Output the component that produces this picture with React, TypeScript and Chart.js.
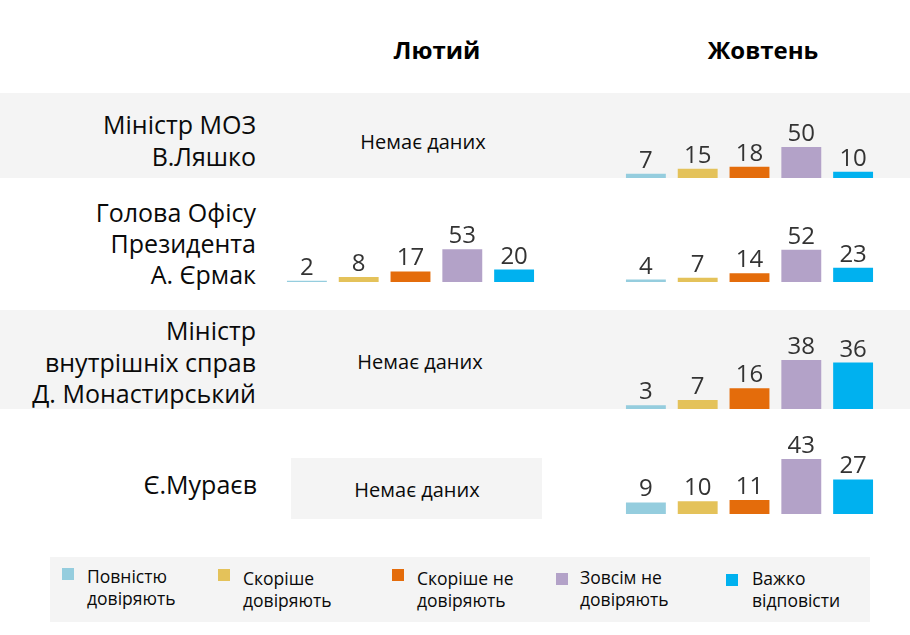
import React, { useEffect, useRef } from "react";
import { Chart, registerables } from "chart.js";
Chart.register(...registerables);

const periods = ["Лютий", "Жовтень"];
const categories = [
  "Повністю довіряють",
  "Скоріше довіряють",
  "Скоріше не довіряють",
  "Зовсім не довіряють",
  "Важко відповісти",
];
const legendLines = [
  ["Повністю", "довіряють"],
  ["Скоріше", "довіряють"],
  ["Скоріше не", "довіряють"],
  ["Зовсім не", "довіряють"],
  ["Важко", "відповісти"],
];
const people = [
  ["Міністр МОЗ", "В.Ляшко"],
  ["Голова Офісу", "Президента", "А. Єрмак"],
  ["Міністр", "внутрішніх справ", "Д. Монастирський"],
  ["Є.Мураєв"],
];
const lyashkoFeb: number[] | null = null;
const lyashkoOct = [7, 15, 18, 50, 10];
const yermakFeb = [2, 8, 17, 53, 20];
const yermakOct = [4, 7, 14, 52, 23];
const monastyrskyFeb: number[] | null = null;
const monastyrskyOct = [3, 7, 16, 38, 36];
const muraevFeb: number[] | null = null;
const muraevOct = [9, 10, 11, 43, 27];
const noDataLabel = "Немає даних";
const colors = ["#95CDDE", "#E4C25A", "#E46C0B", "#B3A2C8", "#00B1EF"];

const FONT = '"Open Sans", "Noto Sans", sans-serif';

const rowsData = [
  [lyashkoFeb, lyashkoOct],
  [yermakFeb, yermakOct],
  [monastyrskyFeb, monastyrskyOct],
  [muraevFeb, muraevOct],
];

// layout
const colLeft = [281, 620];
const colWidth = 259;
const rowLayout = [
  { top: 93, base: 178, ppu: 0.62, band: true, labelY: [124, 156], labelX: 256, noData: [423, 142] },
  { top: 178, base: 282, ppu: 0.62, band: false, labelY: [212, 243, 274], labelX: 256, noData: [0, 0] },
  { top: 310, base: 409, ppu: 1.29, band: true, labelY: [330, 362, 393], labelX: 256, noData: [420, 362] },
  { top: 420, base: 514, ppu: 1.28, band: false, labelY: [484], labelX: 257, noData: [417, 490] },
];

const labelPlugin = {
  id: "valueLabels",
  afterDatasetsDraw(chart: any) {
    const ctx = chart.ctx;
    const meta = chart.getDatasetMeta(0);
    const data = chart.data.datasets[0].data;
    ctx.save();
    ctx.fillStyle = "#333333";
    ctx.font = `24px ${FONT}`;
    ctx.textAlign = "center";
    ctx.textBaseline = "alphabetic";
    meta.data.forEach((el: any, i: number) => {
      ctx.fillText(String(data[i]), el.x, el.y - 6);
    });
    ctx.restore();
  },
};

function Bars({ values, left, top, width, height, ppu }: any) {
  const ref = useRef<HTMLCanvasElement>(null);
  useEffect(() => {
    if (!ref.current) return;
    const chart = new Chart(ref.current, {
      type: "bar",
      data: {
        labels: categories,
        datasets: [
          {
            data: values,
            backgroundColor: colors,
            borderWidth: 0,
            categoryPercentage: 1,
            barPercentage: 0.77,
          },
        ],
      },
      options: {
        animation: false,
        responsive: false,
        maintainAspectRatio: false,
        layout: { padding: 0 },
        plugins: {
          legend: { display: false },
          tooltip: { enabled: false },
        },
        scales: {
          x: { display: false },
          y: { display: false, min: 0, max: height / ppu },
        },
      },
      plugins: [labelPlugin],
    });
    return () => chart.destroy();
  }, []);
  return (
    <canvas
      ref={ref}
      width={width}
      height={height}
      style={{ position: "absolute", left, top, width, height }}
    />
  );
}

function T({ x, y, align, children, style }: any) {
  const tx = align === "right" ? "-100%" : align === "center" ? "-50%" : "0";
  return (
    <div
      style={{
        position: "absolute",
        left: x,
        top: y,
        transform: `translate(${tx}, -50%)`,
        whiteSpace: "nowrap",
        lineHeight: 1,
        color: "#0a0a0a",
        fontFamily: FONT,
        ...style,
      }}
    >
      {children}
    </div>
  );
}

const legendSquareX = [62, 218, 392, 556, 726];
const legendSquareY = [568, 569, 569, 573, 574];
const legendTextX = [87, 243, 417, 580, 752];
const legendTextY = [576, 578, 578, 577, 578];

export default function App() {
  useEffect(() => {
    document.body.style.margin = "0";
  }, []);
  return (
    <div style={{ position: "relative", width: 910, height: 635, background: "#fff", overflow: "hidden" }}>
      {rowLayout.map((r, i) =>
        r.band ? (
          <div key={"b" + i} style={{ position: "absolute", left: 0, top: r.top, width: 910, height: r.base - r.top, background: "#f4f4f4" }} />
        ) : null
      )}
      <div style={{ position: "absolute", left: 291, top: 458, width: 251, height: 61, background: "#f4f4f4" }} />
      <T x={437} y={50} align="center" style={{ fontWeight: 700, fontSize: 24, color: "#000" }}>{periods[0]}</T>
      <T x={763} y={50} align="center" style={{ fontWeight: 700, fontSize: 24, color: "#000" }}>{periods[1]}</T>
      {rowLayout.map((r, i) =>
        people[i].map((line, j) => (
          <T key={`l${i}-${j}`} x={r.labelX} y={r.labelY[j]} align="right" style={{ fontSize: 25 }}>
            {line}
          </T>
        ))
      )}
      {rowLayout.map((r, i) =>
        rowsData[i].map((vals, c) =>
          vals ? (
            <Bars
              key={`c${i}-${c}`}
              values={vals}
              left={colLeft[c]}
              top={r.top}
              width={colWidth}
              height={r.base - r.top}
              ppu={r.ppu}
            />
          ) : (
            <T key={`n${i}-${c}`} x={r.noData[0]} y={r.noData[1]} align="center" style={{ fontSize: 20 }}>
              {noDataLabel}
            </T>
          )
        )
      )}
      <div style={{ position: "absolute", left: 50, top: 557, width: 820, height: 65, background: "#f4f4f4" }} />
      {categories.map((c, i) => (
        <React.Fragment key={"lg" + i}>
          <div style={{ position: "absolute", left: legendSquareX[i], top: legendSquareY[i], width: 12, height: 12, background: colors[i] }} title={c} />
          <div
            style={{
              position: "absolute",
              left: legendTextX[i],
              top: legendTextY[i] - 11,
              fontFamily: FONT,
              fontSize: 17.5,
              lineHeight: "22px",
              color: "#0a0a0a",
              whiteSpace: "nowrap",
            }}
          >
            {legendLines[i][0]}
            <br />
            {legendLines[i][1]}
          </div>
        </React.Fragment>
      ))}
    </div>
  );
}
